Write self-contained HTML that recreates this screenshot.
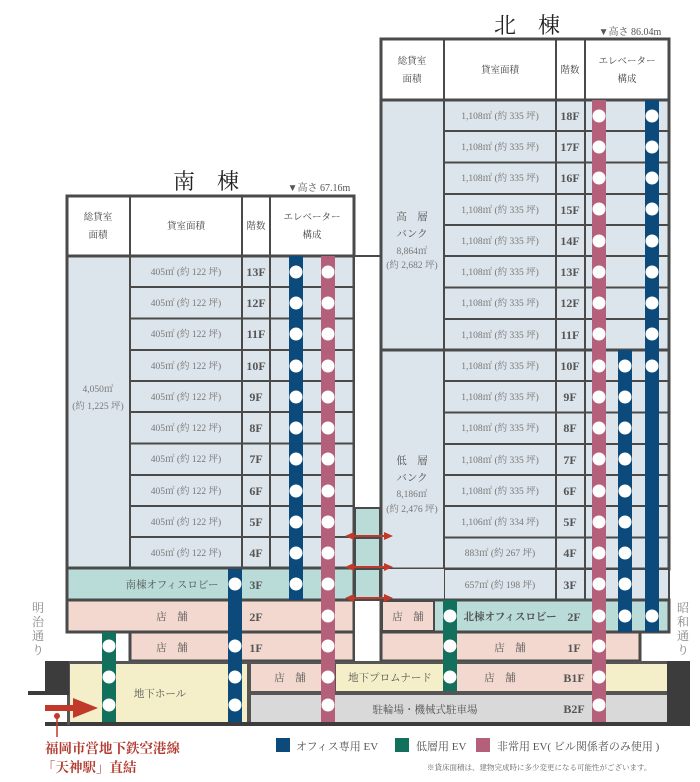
<!DOCTYPE html>
<html><head><meta charset="utf-8"><style>
html,body{margin:0;padding:0;background:#fff;width:700px;height:782px;overflow:hidden}
svg{display:block}
text{font-family:"Liberation Serif","Noto Serif CJK SC",serif}
.a{font-size:9.5px;fill:#777;text-anchor:middle}
.f{font-size:12px;fill:#555;font-weight:bold;text-anchor:middle}
.h{font-size:9.5px;fill:#444;text-anchor:middle}
.c{font-size:10.5px;fill:#555;text-anchor:middle}
</style></head><body>
<svg width="700" height="782" viewBox="0 0 700 782">
<!-- titles -->
<text x="527" y="33" font-size="22" fill="#222" text-anchor="middle">北　棟</text>
<text x="630" y="35" font-size="10" fill="#555" text-anchor="middle">▼高さ 86.04m</text>
<text x="206" y="189" font-size="22" fill="#222" text-anchor="middle">南　棟</text>
<text x="319" y="191" font-size="10" fill="#555" text-anchor="middle">▼高さ 67.16m</text>

<!-- ===== SOUTH ===== -->
<rect x="67" y="196" width="287" height="60" fill="#fff"/>
<rect x="67" y="256" width="287" height="312" fill="#dce5eb"/>
<g stroke="#4a4a4a" stroke-width="2">
<line x1="130" y1="287" x2="354" y2="287"/><line x1="130" y1="318.5" x2="354" y2="318.5"/>
<line x1="130" y1="350" x2="354" y2="350"/><line x1="130" y1="381" x2="354" y2="381"/>
<line x1="130" y1="412" x2="354" y2="412"/><line x1="130" y1="443.5" x2="354" y2="443.5"/>
<line x1="130" y1="475" x2="354" y2="475"/><line x1="130" y1="506" x2="354" y2="506"/>
<line x1="130" y1="537" x2="354" y2="537"/>
<line x1="130" y1="196" x2="130" y2="568"/><line x1="242" y1="196" x2="242" y2="568"/><line x1="270" y1="196" x2="270" y2="568"/>
</g>
<line x1="67" y1="256" x2="354" y2="256" stroke="#4a4a4a" stroke-width="3"/>
<rect x="67" y="196" width="287" height="372" fill="none" stroke="#4a4a4a" stroke-width="3"/>
<text class="h" x="98" y="220">総貸室</text><text class="h" x="98" y="238">面積</text>
<text class="h" x="186" y="229">貸室面積</text><text class="h" x="256" y="229">階数</text>
<text class="h" x="312" y="220">エレベーター</text><text class="h" x="312" y="238">構成</text>
<text class="a" x="98" y="392">4,050㎡</text><text class="a" x="98" y="409">(約 1,225 坪)</text>
<g>
<text class="a" x="186" y="275">405㎡ (約 122 坪)</text><text class="f" x="256" y="276">13F</text>
<text class="a" x="186" y="306">405㎡ (約 122 坪)</text><text class="f" x="256" y="307">12F</text>
<text class="a" x="186" y="337">405㎡ (約 122 坪)</text><text class="f" x="256" y="338">11F</text>
<text class="a" x="186" y="369">405㎡ (約 122 坪)</text><text class="f" x="256" y="370">10F</text>
<text class="a" x="186" y="400">405㎡ (約 122 坪)</text><text class="f" x="256" y="401">9F</text>
<text class="a" x="186" y="431">405㎡ (約 122 坪)</text><text class="f" x="256" y="432">8F</text>
<text class="a" x="186" y="462">405㎡ (約 122 坪)</text><text class="f" x="256" y="463">7F</text>
<text class="a" x="186" y="494">405㎡ (約 122 坪)</text><text class="f" x="256" y="495">6F</text>
<text class="a" x="186" y="525">405㎡ (約 122 坪)</text><text class="f" x="256" y="526">5F</text>
<text class="a" x="186" y="556">405㎡ (約 122 坪)</text><text class="f" x="256" y="557">4F</text>
</g>
<rect x="67" y="568" width="287" height="32" fill="#b9dcd8" stroke="#4a4a4a" stroke-width="3"/>
<text class="c" x="172" y="588">南棟オフィスロビー</text><text class="f" x="256" y="589">3F</text>
<rect x="67" y="600" width="287" height="32" fill="#f2d8ce" stroke="#4a4a4a" stroke-width="3"/>
<text class="c" x="172" y="620">店　舗</text><text class="f" x="256" y="621">2F</text>
<rect x="130" y="632" width="224" height="29" fill="#f2d8ce" stroke="#4a4a4a" stroke-width="3"/>
<text class="c" x="172" y="651">店　舗</text><text class="f" x="256" y="652">1F</text>

<!-- middle gap & bridges -->
<rect x="354" y="256" width="27" height="406" fill="#fff" stroke="#4a4a4a" stroke-width="2"/>
<rect x="355" y="508" width="25" height="92" fill="#b9dcd8" stroke="#4a4a4a" stroke-width="2"/>
<line x1="355" y1="538" x2="380" y2="538" stroke="#4a4a4a" stroke-width="2"/>
<line x1="355" y1="569" x2="380" y2="569" stroke="#4a4a4a" stroke-width="2"/>

<!-- ===== NORTH ===== -->
<rect x="381" y="39" width="288" height="61" fill="#fff"/>
<rect x="381" y="100" width="288" height="469" fill="#dce5eb"/>
<g stroke="#4a4a4a" stroke-width="2">
<line x1="444" y1="131" x2="669" y2="131"/><line x1="444" y1="162.5" x2="669" y2="162.5"/>
<line x1="444" y1="194" x2="669" y2="194"/><line x1="444" y1="225" x2="669" y2="225"/>
<line x1="444" y1="256" x2="669" y2="256"/><line x1="444" y1="287.5" x2="669" y2="287.5"/>
<line x1="444" y1="319" x2="669" y2="319"/>
<line x1="444" y1="381" x2="669" y2="381"/><line x1="444" y1="412.5" x2="669" y2="412.5"/>
<line x1="444" y1="444" x2="669" y2="444"/><line x1="444" y1="475" x2="669" y2="475"/>
<line x1="444" y1="506" x2="669" y2="506"/><line x1="444" y1="537.5" x2="669" y2="537.5"/>
<line x1="444" y1="39" x2="444" y2="569"/><line x1="556" y1="39" x2="556" y2="569"/><line x1="585" y1="39" x2="585" y2="569"/>
</g>
<line x1="381" y1="350" x2="669" y2="350" stroke="#4a4a4a" stroke-width="3"/>
<line x1="381" y1="100" x2="669" y2="100" stroke="#4a4a4a" stroke-width="3"/>
<rect x="381" y="39" width="288" height="530" fill="none" stroke="#4a4a4a" stroke-width="3"/>
<text class="h" x="412" y="64">総貸室</text><text class="h" x="412" y="82">面積</text>
<text class="h" x="500" y="73">貸室面積</text><text class="h" x="570" y="73">階数</text>
<text class="h" x="627" y="64">エレベーター</text><text class="h" x="627" y="82">構成</text>
<text class="c" x="412" y="220">高　層</text><text class="c" x="412" y="237">バンク</text>
<text class="a" x="412" y="254">8,864㎡</text><text class="a" x="412" y="268">(約 2,682 坪)</text>
<text class="c" x="412" y="464">低　層</text><text class="c" x="412" y="481">バンク</text>
<text class="a" x="412" y="497">8,186㎡</text><text class="a" x="412" y="512">(約 2,476 坪)</text>
<g>
<text class="a" x="500" y="119">1,108㎡ (約 335 坪)</text><text class="f" x="570" y="120">18F</text>
<text class="a" x="500" y="150">1,108㎡ (約 335 坪)</text><text class="f" x="570" y="151">17F</text>
<text class="a" x="500" y="181">1,108㎡ (約 335 坪)</text><text class="f" x="570" y="182">16F</text>
<text class="a" x="500" y="213">1,108㎡ (約 335 坪)</text><text class="f" x="570" y="214">15F</text>
<text class="a" x="500" y="244">1,108㎡ (約 335 坪)</text><text class="f" x="570" y="245">14F</text>
<text class="a" x="500" y="275">1,108㎡ (約 335 坪)</text><text class="f" x="570" y="276">13F</text>
<text class="a" x="500" y="306">1,108㎡ (約 335 坪)</text><text class="f" x="570" y="307">12F</text>
<text class="a" x="500" y="338">1,108㎡ (約 335 坪)</text><text class="f" x="570" y="339">11F</text>
<text class="a" x="500" y="369">1,108㎡ (約 335 坪)</text><text class="f" x="570" y="370">10F</text>
<text class="a" x="500" y="400">1,108㎡ (約 335 坪)</text><text class="f" x="570" y="401">9F</text>
<text class="a" x="500" y="431">1,108㎡ (約 335 坪)</text><text class="f" x="570" y="432">8F</text>
<text class="a" x="500" y="463">1,108㎡ (約 335 坪)</text><text class="f" x="570" y="464">7F</text>
<text class="a" x="500" y="494">1,108㎡ (約 335 坪)</text><text class="f" x="570" y="495">6F</text>
<text class="a" x="500" y="525">1,106㎡ (約 334 坪)</text><text class="f" x="570" y="526">5F</text>
<text class="a" x="500" y="556">883㎡ (約 267 坪)</text><text class="f" x="570" y="557">4F</text>
</g>
<rect x="444" y="569" width="225" height="31" fill="#dce5eb" stroke="#4a4a4a" stroke-width="2"/>
<rect x="381" y="569" width="63" height="31" fill="#dce5eb"/>
<line x1="556" y1="569" x2="556" y2="600" stroke="#4a4a4a" stroke-width="2"/>
<line x1="585" y1="569" x2="585" y2="600" stroke="#4a4a4a" stroke-width="2"/>
<line x1="381" y1="539" x2="381" y2="600" stroke="#4a4a4a" stroke-width="3"/>
<text class="a" x="500" y="588">657㎡ (約 198 坪)</text><text class="f" x="570" y="589">3F</text>
<rect x="381" y="600" width="288" height="32" fill="#b9dcd8" stroke="#4a4a4a" stroke-width="3"/>
<rect x="382" y="601" width="52" height="30" fill="#f2d8ce" stroke="#4a4a4a" stroke-width="2"/>
<text class="c" x="408" y="620">店　舗</text>
<text class="c" x="510" y="620" font-weight="bold" fill="#444">北棟オフィスロビー</text><text class="f" x="574" y="621">2F</text>
<rect x="381" y="632" width="259" height="29" fill="#f2d8ce" stroke="#4a4a4a" stroke-width="3"/>
<text class="c" x="510" y="651">店　舗</text><text class="f" x="574" y="652">1F</text>

<!-- ===== UNDERGROUND ===== -->
<rect x="67" y="661" width="603" height="64" fill="#555"/>
<rect x="70" y="664" width="177" height="58" fill="#f4efc8"/>
<text class="c" x="160" y="697">地下ホール</text>
<rect x="251" y="664" width="84" height="27" fill="#f2d8ce"/>
<text class="c" x="290" y="681">店　舗</text>
<rect x="336" y="664" width="108" height="27" fill="#f4efc8"/>
<text class="c" x="390" y="681">地下プロムナード</text>
<rect x="444" y="664" width="160" height="27" fill="#f2d8ce"/>
<text class="c" x="500" y="681">店　舗</text><text class="f" x="574" y="682">B1F</text>
<rect x="604" y="664" width="63" height="27" fill="#f4efc8"/>
<rect x="251" y="695" width="416" height="27" fill="#d9d9d9"/>
<text class="c" x="425" y="713">駐輪場・機械式駐車場</text><text class="f" x="574" y="713">B2F</text>
<rect x="667" y="661" width="23" height="65" fill="#3c3c3c"/>
<rect x="45" y="661" width="24" height="32" fill="#3c3c3c"/>
<rect x="28" y="691" width="41" height="4" fill="#3c3c3c"/>
<rect x="45" y="722" width="645" height="4" fill="#3c3c3c"/>
<rect x="67" y="695" width="3" height="30" fill="#555"/>

<!-- ===== ELEVATORS ===== -->
<g fill="#0b4a7a">
<rect x="289" y="256" width="14" height="344"/>
<rect x="228" y="569" width="14" height="153"/>
<rect x="645" y="100" width="14" height="532"/>
<rect x="618" y="350" width="14" height="282"/>
</g>
<g fill="#13705d">
<rect x="102" y="632" width="14" height="90"/>
<rect x="443" y="600" width="14" height="91"/>
</g>
<g fill="#b5607a">
<rect x="321" y="256" width="14" height="466"/>
<rect x="592" y="100" width="14" height="622"/>
</g>
<g fill="#fff">
<circle cx="296" cy="272" r="6.5"/><circle cx="296" cy="303" r="6.5"/><circle cx="296" cy="334" r="6.5"/><circle cx="296" cy="366" r="6.5"/><circle cx="296" cy="397" r="6.5"/><circle cx="296" cy="428" r="6.5"/><circle cx="296" cy="459" r="6.5"/><circle cx="296" cy="491" r="6.5"/><circle cx="296" cy="522" r="6.5"/><circle cx="296" cy="553" r="6.5"/><circle cx="296" cy="584" r="6.5"/>
<circle cx="328" cy="272" r="6.5"/><circle cx="328" cy="303" r="6.5"/><circle cx="328" cy="334" r="6.5"/><circle cx="328" cy="366" r="6.5"/><circle cx="328" cy="397" r="6.5"/><circle cx="328" cy="428" r="6.5"/><circle cx="328" cy="459" r="6.5"/><circle cx="328" cy="491" r="6.5"/><circle cx="328" cy="522" r="6.5"/><circle cx="328" cy="553" r="6.5"/><circle cx="328" cy="584" r="6.5"/><circle cx="328" cy="616" r="6.5"/><circle cx="328" cy="646" r="6.5"/><circle cx="328" cy="677" r="6.5"/><circle cx="328" cy="705" r="6.5"/>
<circle cx="235" cy="584" r="6.5"/><circle cx="235" cy="646" r="6.5"/><circle cx="235" cy="677" r="6.5"/><circle cx="235" cy="705" r="6.5"/>
<circle cx="109" cy="646" r="6.5"/><circle cx="109" cy="677" r="6.5"/><circle cx="109" cy="705" r="6.5"/>
<circle cx="599" cy="116" r="6.5"/><circle cx="599" cy="147" r="6.5"/><circle cx="599" cy="178" r="6.5"/><circle cx="599" cy="209" r="6.5"/><circle cx="599" cy="241" r="6.5"/><circle cx="599" cy="272" r="6.5"/><circle cx="599" cy="303" r="6.5"/><circle cx="599" cy="334" r="6.5"/><circle cx="599" cy="366" r="6.5"/><circle cx="599" cy="397" r="6.5"/><circle cx="599" cy="428" r="6.5"/><circle cx="599" cy="459" r="6.5"/><circle cx="599" cy="491" r="6.5"/><circle cx="599" cy="522" r="6.5"/><circle cx="599" cy="553" r="6.5"/><circle cx="599" cy="584" r="6.5"/><circle cx="599" cy="616" r="6.5"/><circle cx="599" cy="646" r="6.5"/><circle cx="599" cy="677" r="6.5"/><circle cx="599" cy="705" r="6.5"/>
<circle cx="652" cy="116" r="6.5"/><circle cx="652" cy="147" r="6.5"/><circle cx="652" cy="178" r="6.5"/><circle cx="652" cy="209" r="6.5"/><circle cx="652" cy="241" r="6.5"/><circle cx="652" cy="272" r="6.5"/><circle cx="652" cy="303" r="6.5"/><circle cx="652" cy="334" r="6.5"/><circle cx="652" cy="366" r="6.5"/><circle cx="652" cy="616" r="6.5"/>
<circle cx="625" cy="366" r="6.5"/><circle cx="625" cy="397" r="6.5"/><circle cx="625" cy="428" r="6.5"/><circle cx="625" cy="459" r="6.5"/><circle cx="625" cy="491" r="6.5"/><circle cx="625" cy="522" r="6.5"/><circle cx="625" cy="553" r="6.5"/><circle cx="625" cy="584" r="6.5"/><circle cx="625" cy="616" r="6.5"/>
<circle cx="450" cy="616" r="6.5"/><circle cx="450" cy="646" r="6.5"/><circle cx="450" cy="677" r="6.5"/>
</g>

<!-- bridge arrows (double-headed) -->
<g stroke="#c0392b" stroke-width="2">
<line x1="352" y1="536" x2="386" y2="536"/>
<line x1="352" y1="567" x2="386" y2="567"/>
<line x1="352" y1="598" x2="386" y2="598"/>
</g>
<g fill="#c0392b">
<path d="M345,536 L354,532 L354,540 z"/><path d="M393,536 L384,532 L384,540 z"/>
<path d="M345,567 L354,563 L354,571 z"/><path d="M393,567 L384,563 L384,571 z"/>
<path d="M345,598 L354,594 L354,602 z"/><path d="M393,598 L384,594 L384,602 z"/>
</g>

<!-- streets -->
<text font-size="12" fill="#888" x="38" y="612" text-anchor="middle">明</text>
<text font-size="12" fill="#888" x="38" y="626" text-anchor="middle">治</text>
<text font-size="12" fill="#888" x="38" y="640" text-anchor="middle">通</text>
<text font-size="12" fill="#888" x="38" y="654" text-anchor="middle">り</text>
<text font-size="12" fill="#888" x="683" y="612" text-anchor="middle">昭</text>
<text font-size="12" fill="#888" x="683" y="626" text-anchor="middle">和</text>
<text font-size="12" fill="#888" x="683" y="640" text-anchor="middle">通</text>
<text font-size="12" fill="#888" x="683" y="654" text-anchor="middle">り</text>

<!-- subway arrow -->
<rect x="45" y="705" width="30" height="6" fill="#c0392b"/>
<path d="M73,698 L98,708 L73,718 z" fill="#c0392b"/>
<circle cx="57" cy="716" r="3" fill="#c0392b"/>
<line x1="57" y1="716" x2="57" y2="737" stroke="#c0392b" stroke-width="1.5"/>
<text x="45" y="753" font-size="13.5" font-weight="bold" fill="#b03a2e">福岡市営地下鉄空港線</text>
<text x="42" y="772" font-size="13.5" font-weight="bold" fill="#b03a2e">「天神駅」直結</text>

<!-- legend -->
<rect x="276" y="738" width="14" height="14" fill="#0b4a7a"/>
<text x="296" y="750" font-size="11" fill="#555">オフィス専用 EV</text>
<rect x="395" y="738" width="14" height="14" fill="#13705d"/>
<text x="416" y="750" font-size="11" fill="#555">低層用 EV</text>
<rect x="476" y="738" width="14" height="14" fill="#b5607a"/>
<text x="497" y="750" font-size="11" fill="#555">非常用 EV( ビル関係者のみ使用 )</text>
<text x="427" y="770" font-size="7.5" fill="#666">※貸床面積は、建物完成時に多少変更になる可能性がございます。</text>
</svg>
</body></html>
